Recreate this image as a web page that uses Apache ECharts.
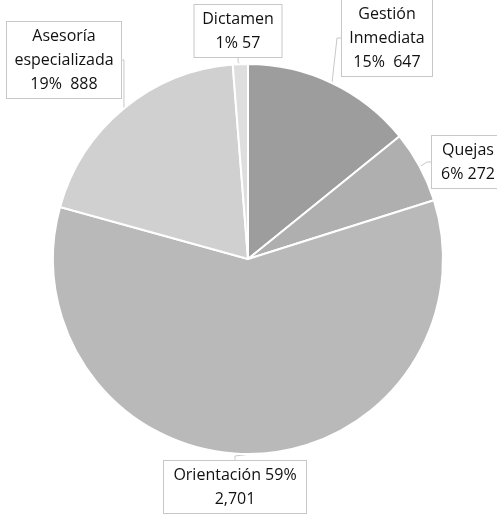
<!DOCTYPE html>
<html>
<head>
<meta charset="utf-8">
<script src="https://cdn.jsdelivr.net/npm/echarts@6/dist/echarts.min.js"></script>
<style>
  html, body { margin: 0; padding: 0; background: #fff; }
  #chart { width: 497px; height: 514px; }
</style>
</head>
<body>
<div id="chart"></div>
<script>
// categorías y valores (en orden horario desde arriba)
const categories = ['Gestión Inmediata', 'Quejas', 'Orientación', 'Asesoría especializada', 'Dictamen'];
const values = [647, 272, 2701, 888, 57];
const percentLabels = ['15%', '6%', '59%', '19%', '1%'];
const valueLabels = ['647', '272', '2,701', '888', '57'];
const colors = ['#9d9d9d', '#afafaf', '#b9b9b9', '#d0d0d0', '#dedede'];

// texto de cada etiqueta tal como aparece en el original
function labelText(i) {
  switch (i) {
    case 0: return 'Gestión\nInmediata\n' + percentLabels[i] + '  ' + valueLabels[i];
    case 1: return 'Quejas\n' + percentLabels[i] + ' ' + valueLabels[i];
    case 2: return 'Orientación ' + percentLabels[i] + '\n' + valueLabels[i];
    case 3: return 'Asesoría\nespecializada\n' + percentLabels[i] + '  ' + valueLabels[i];
    default: return 'Dictamen\n' + percentLabels[i] + ' ' + valueLabels[i];
  }
}

// posición y ancho de las cajas de texto
const labelPos = [
  [387, 38],
  [468, 162],
  [235, 487],
  [64, 60],
  [238, 31]
];
const labelWidths = [80, 62, 132, 104, 77];

const chart = echarts.init(document.getElementById('chart'));

chart.setOption({
  animation: false,
  series: [{
    type: 'pie',
    center: [248, 259],
    radius: 195,
    startAngle: 90,
    clockwise: true,
    data: categories.map((name, i) => ({
      name: name,
      value: values[i],
      itemStyle: { color: colors[i] },
      label: { width: labelWidths[i] }
    })),
    itemStyle: { borderColor: '#fff', borderWidth: 2 },
    label: {
      show: true,
      position: 'outside',
      formatter: p => labelText(p.dataIndex),
      overflow: 'none',
      fontFamily: 'Open Sans',
      fontSize: 16,
      lineHeight: 24,
      color: '#111',
      align: 'center',
      backgroundColor: '#fff',
      borderColor: '#c8c8c8',
      borderWidth: 1,
      padding: [2, 5, 2, 5]
    },
    labelLine: {
      show: true,
      length: 8,
      length2: 4,
      lineStyle: { color: '#c8c8c8', width: 1 }
    },
    labelLayout: function (params) {
      const pos = labelPos[params.dataIndex];
      return { x: pos[0], y: pos[1], align: 'center', verticalAlign: 'middle' };
    },
    emphasis: { disabled: true }
  }]
});
</script>
</body>
</html>
